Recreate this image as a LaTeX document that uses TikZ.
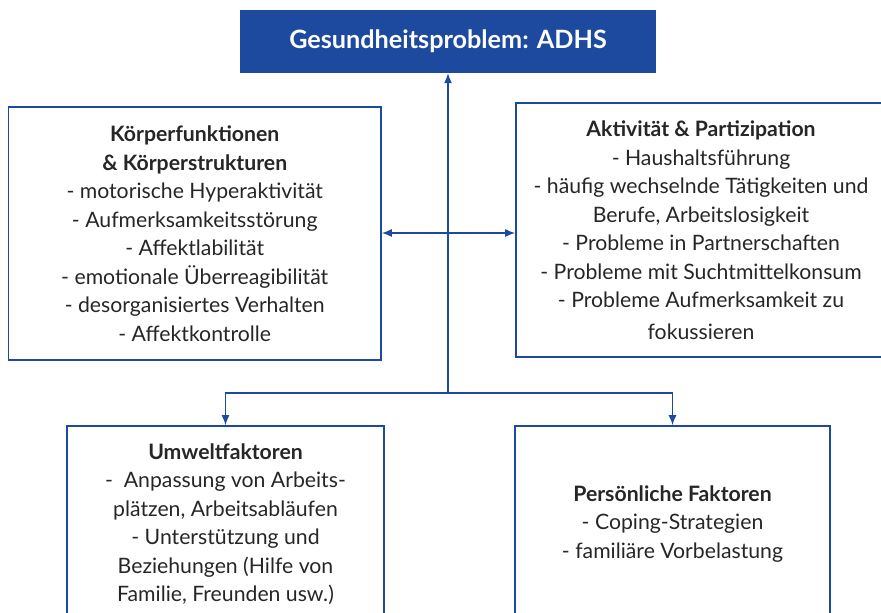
\documentclass[tikz,border=0pt]{standalone}
\usepackage{fontspec}
\setmainfont{Lato}
\usetikzlibrary{arrows.meta}
\definecolor{icfblue}{HTML}{1D4A9E}
\definecolor{txt}{HTML}{262626}
\begin{document}
\begin{tikzpicture}[x=1bp,y=-1bp,
  box/.style={draw=icfblue, line width=1.6bp, rectangle, inner sep=0pt, align=center, text=txt, font=\fontsize{21.3}{28.6}\selectfont},
  conn/.style={draw=icfblue, line width=1.4bp},
  tip/.style={-{Latex[length=10bp,width=8bp]}},
  dtip/.style={{Latex[length=10bp,width=8bp]}-{Latex[length=10bp,width=8bp]}}]
\useasboundingbox (0,0) rectangle (881,613);
\clip (0,0) rectangle (881,613);
\node[fill=icfblue, minimum width=416bp, minimum height=63bp, inner sep=0pt, text=white, font=\bfseries\fontsize{25.3}{30}\selectfont] (top) at (448,41.5) {Gesundheitsproblem: ADHS};
\node[box, minimum width=372.5bp, minimum height=253bp] (body) at (194.75,233.5)
 {\textbf{Körperfunktionen}\\ \textbf{\& Körperstrukturen}\\ - motorische Hyperaktivität\\ - Aufmerksamkeitsstörung\\ - Affektlabilität\\ - emotionale Überreagibilität\\ - desorganisiertes Verhalten\\ - Affektkontrolle};
\node[box, minimum width=370bp, minimum height=254bp] (act) at (701,230)
 {\textbf{Aktivität \& Partizipation}\\ - Haushaltsführung\\ - häufig wechselnde Tätigkeiten und\\ Berufe, Arbeitslosigkeit\\ - Probleme in Partnerschaften\\ - Probleme mit Suchtmittelkonsum\\ - Probleme Aufmerksamkeit zu\\[3bp] fokussieren};
\node[box, minimum width=317bp, minimum height=196bp] (umw) at (225.5,524)
 {\textbf{Umweltfaktoren}\\ -\ \ Anpassung von Arbeits-\\ plätzen, Arbeitsabläufen\\ - Unterstützung und\\ Beziehungen (Hilfe von\\ Familie, Freunden usw.)};
\node[box, minimum width=315bp, minimum height=196bp] (pers) at (672.5,524)
 {\textbf{Persönliche Faktoren}\\ - Coping-Strategien\\ - familiäre Vorbelastung};
\coordinate (j) at (448,393);
\draw[conn,tip] (j) -- (top.south);
\draw[conn,tip] (j) -| (umw.north);
\draw[conn,tip] (j) -| (pers.north);
\coordinate (ha) at (0,233);
\draw[conn,dtip] (body.east |- ha) -- (act.west |- ha);
\end{tikzpicture}
\end{document}
